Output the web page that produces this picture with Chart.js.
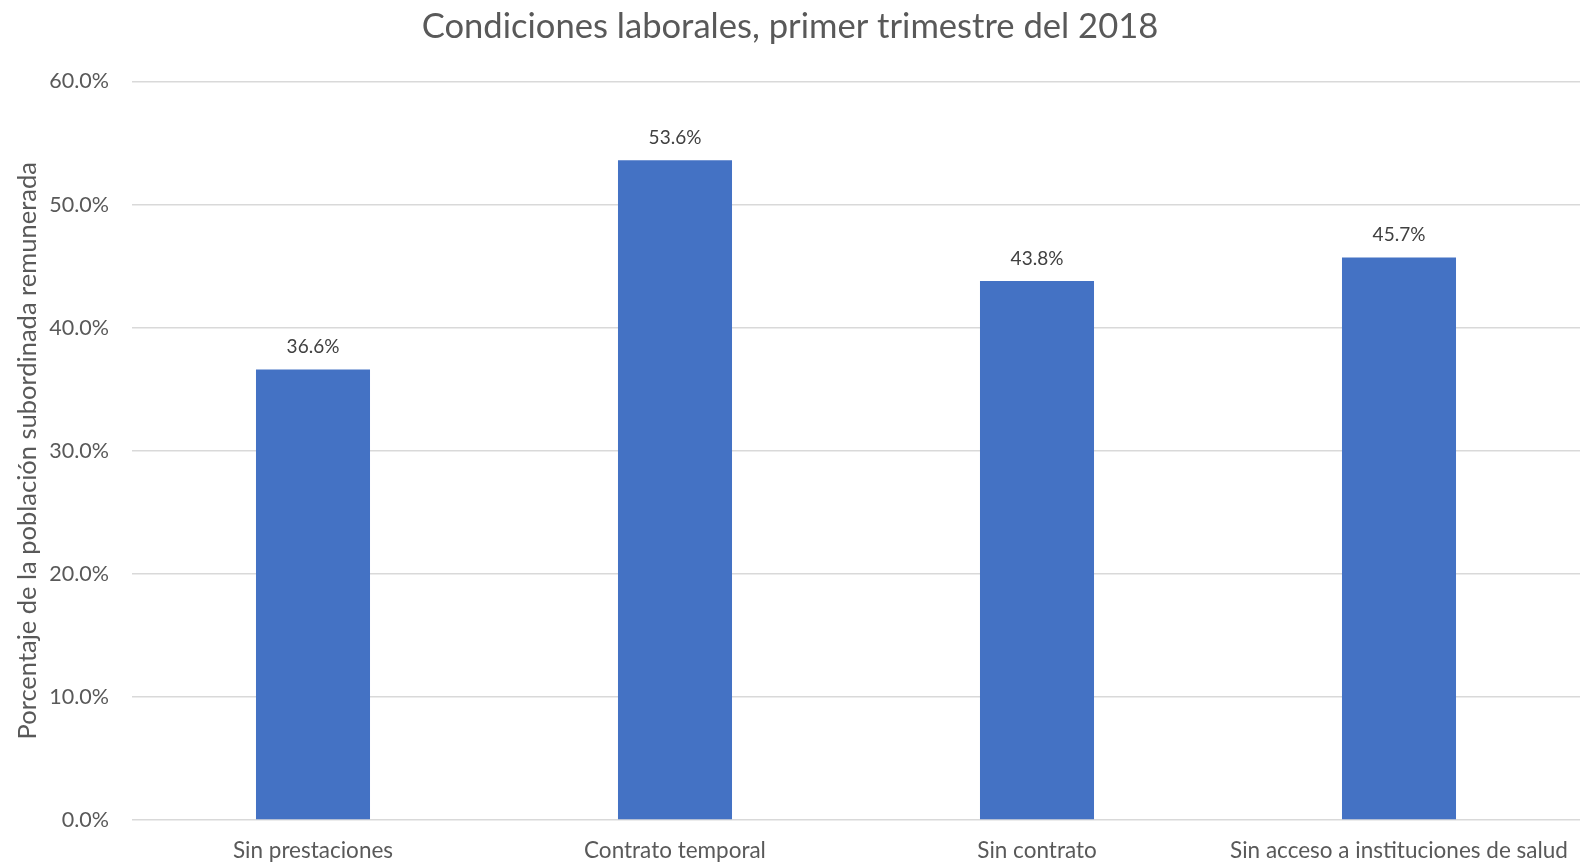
<!DOCTYPE html>
<html>
<head>
<meta charset="utf-8">
<script src="https://cdn.jsdelivr.net/npm/chart.js@4"></script>
<style>
  html, body { margin: 0; padding: 0; background: #fff; }
  #wrap { width: 1580px; height: 862px; }
</style>
</head>
<body>
<div id="wrap"><canvas id="barChart"></canvas></div>
<script>
// ===== Data =====
const categories = ["Sin prestaciones", "Contrato temporal", "Sin contrato", "Sin acceso a instituciones de salud"];
const values = [36.6, 53.6, 43.8, 45.7];
const yTicks = [0, 10, 20, 30, 40, 50, 60];

const FONT = "Lato, 'Open Sans', sans-serif";
const TEXT = "#595959";

// ===== Value labels above bars =====
const barLabels = {
  id: "barLabels",
  afterDatasetsDraw(chart) {
    const { ctx } = chart;
    const meta = chart.getDatasetMeta(0);
    ctx.save();
    ctx.font = "19px " + FONT;
    ctx.fillStyle = "#404040";
    ctx.textAlign = "center";
    ctx.textBaseline = "bottom";
    meta.data.forEach((bar, i) => {
      ctx.fillText(values[i].toFixed(1) + "%", bar.x, bar.y - 13);
    });
    ctx.restore();
  },
};

new Chart(document.getElementById("barChart").getContext("2d"), {
  type: "bar",
  data: {
    labels: categories,
    datasets: [{
      data: values,
      backgroundColor: "#4472C4",
      categoryPercentage: 1,
      barPercentage: 0.315,
    }],
  },
  options: {
    responsive: true,
    maintainAspectRatio: false,
    animation: false,
    layout: { padding: 0 },
    plugins: {
      legend: { display: false },
      tooltip: { enabled: false },
      title: {
        display: true,
        text: "Condiciones laborales, primer trimestre del 2018",
        color: TEXT,
        font: { family: FONT, size: 34.6, weight: "normal" },
        padding: { top: 6, bottom: 34 },
      },
    },
    scales: {
      x: {
        grid: { display: false, drawTicks: false },
        border: { display: false },
        ticks: { color: TEXT, font: { family: FONT, size: 22.5 }, padding: 17, maxRotation: 0 },
        afterFit: (axis) => {
          axis.height = 42;
          axis.paddingLeft = 0;
          axis.paddingRight = 0;
        },
      },
      y: {
        min: 0,
        max: 60,
        afterBuildTicks: (axis) => { axis.ticks = yTicks.map((v) => ({ value: v })); },
        grid: { color: "#D9D9D9", lineWidth: 1.5, drawTicks: false },
        border: { display: false },
        ticks: {
          color: TEXT,
          font: { family: FONT, size: 21.5 },
          padding: 23,
          callback: (v) => v.toFixed(1) + "%",
        },
        title: {
          display: true,
          text: "Porcentaje de la población subordinada remunerada",
          color: TEXT,
          font: { family: FONT, size: 25.5 },
          padding: { top: 12, bottom: 0 },
        },
        afterFit: (axis) => {
          axis.width = 132;
          axis.paddingTop = 0;
          axis.paddingBottom = 0;
        },
      },
    },
  },
  plugins: [barLabels],
});
</script>
</body>
</html>
